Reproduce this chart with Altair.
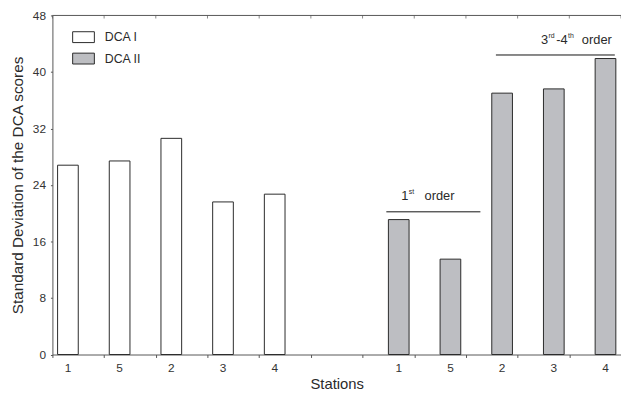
import altair as alt
import pandas as pd

# ---- data ----
stations = ["1", "5", "2", "3", "4"]
dca1_values = [26.8, 27.4, 30.6, 21.6, 22.7]
dca2_values = [19.1, 13.5, 37.0, 37.6, 41.9]
series_names = ["DCA I", "DCA II"]
dca1_slots = [0, 1, 2, 3, 4]
dca2_slots = [6, 7, 8, 9, 10]
y_ticks = [0, 8, 16, 24, 32, 40, 48]
x_ticks = list(range(12))

# annotation brackets (in axis units)
bracket_start = [6.46, 8.58]
bracket_end = [8.28, 10.88]
bracket_level = [20.2, 42.4]

# annotation text pieces
ann_x = [6.75, 6.75, 6.75, 9.45, 9.45, 9.45, 9.45, 9.45]
ann_y = [21.9, 21.9, 21.9, 44.0, 44.0, 44.0, 44.0, 44.0]
ann_text = ["1", "st", "order", "3", "rd", "-4", "th", "order"]
ann_dx = [0, 7.6, 23.5, 0, 7.6, 15.5, 27.5, 41.5]
ann_sup = [0, 1, 0, 0, 1, 0, 1, 0]

FONT = "Liberation Sans"
DARK = "#2a2a2a"
AXC = "#555555"

rows = []
for s, v, k in zip(stations, dca1_values, dca1_slots):
    rows.append({"station": s, "value": v, "series": series_names[0], "slot": k, "off": 0.1})
for s, v, k in zip(stations, dca2_values, dca2_slots):
    rows.append({"station": s, "value": v, "series": series_names[1], "slot": k, "off": 0.5})
df = pd.DataFrame(rows)
df["x0"] = df["slot"] + df["off"]
df["x1"] = df["x0"] + 0.4
df["xc"] = df["x0"] + 0.2
df["base"] = 0.0

xs = alt.Scale(domain=[0, 11], nice=False, zero=False)
ys = alt.Scale(domain=[0, 48], nice=False)

bars = alt.Chart(df).mark_bar(stroke=DARK, strokeWidth=1).encode(
    x=alt.X("x0:Q", scale=xs, axis=alt.Axis(
        values=x_ticks, labels=False, tickSize=3,
        grid=False, title="Stations", titleFontSize=15, titleFont=FONT,
        titleFontWeight="normal", titleColor=DARK, titlePadding=19,
        domainColor=AXC, tickColor=AXC)),
    x2="x1:Q",
    y=alt.Y("value:Q", scale=ys, axis=alt.Axis(
        values=y_ticks, tickSize=2, grid=False, labelFontSize=12, labelFlush=False,
        labelFont=FONT, labelColor="#333333", labelPadding=5,
        title="Standard Deviation of the DCA scores",
        titleFontSize=15.5, titleFont=FONT, titleFontWeight="normal", titleColor=DARK,
        titlePadding=7, domainColor=AXC, tickColor=AXC)),
    y2="base:Q",
    fill=alt.Fill("series:N", scale=alt.Scale(domain=series_names, range=["#ffffff", "#bdbec2"]),
                  legend=alt.Legend(
                      orient="none", legendX=20, legendY=10.5, title=None,
                      symbolType="M-1,-0.5H1V0.5H-1Z", symbolSize=484,
                      symbolStrokeColor=DARK, symbolStrokeWidth=1,
                      labelFont=FONT, labelFontSize=12.5, labelColor=DARK,
                      labelOffset=10, rowPadding=2.7)),
)

labels = alt.Chart(df).mark_text(dy=14, fontSize=12, font=FONT, color="#333333").encode(
    x=alt.X("xc:Q", scale=xs),
    y=alt.Y("base:Q", scale=ys),
    text="station:N",
)

# top frame line with small inward ticks
top_df = pd.DataFrame({"a": [0], "b": [11], "y": [48]})
top_line = alt.Chart(top_df).mark_rule(color=AXC, strokeWidth=1).encode(
    x=alt.X("a:Q", scale=xs), x2="b:Q", y=alt.Y("y:Q", scale=ys))
tick_df = pd.DataFrame({"t": x_ticks, "y": [48] * len(x_ticks)})
top_ticks = alt.Chart(tick_df).mark_tick(color=AXC, thickness=1, size=3, orient="vertical",
                                         yOffset=1.5).encode(
    x=alt.X("t:Q", scale=xs), y=alt.Y("y:Q", scale=ys))

br = pd.DataFrame({"a": bracket_start, "b": bracket_end, "y": bracket_level})
rules = alt.Chart(br).mark_rule(color="#111", strokeWidth=1).encode(
    x=alt.X("a:Q", scale=xs),
    x2="b:Q",
    y=alt.Y("y:Q", scale=ys),
)

ann = pd.DataFrame({"x": ann_x, "y": ann_y, "t": ann_text, "dx": ann_dx, "sup": ann_sup})
main_txt = alt.Chart(ann).transform_filter("datum.sup == 0").mark_text(
    align="left", baseline="alphabetic", fontSize=13, font=FONT, color=DARK,
    dx=alt.expr("datum.dx")).encode(
    x=alt.X("x:Q", scale=xs),
    y=alt.Y("y:Q", scale=ys),
    text="t:N",
)
sup_txt = alt.Chart(ann).transform_filter("datum.sup == 1").mark_text(
    align="left", baseline="alphabetic", fontSize=7, font=FONT, color=DARK, dy=-5.5,
    dx=alt.expr("datum.dx")).encode(
    x=alt.X("x:Q", scale=xs),
    y=alt.Y("y:Q", scale=ys),
    text="t:N",
)

chart = alt.layer(bars, labels, top_line, top_ticks, rules, main_txt, sup_txt).properties(
    width=576, height=343.5,
    autosize=alt.AutoSizeParams(type="none"),
    padding={"left": 45, "top": 5, "right": 0, "bottom": 40},
).configure_view(stroke=None)

chart.save("out.html", embed_options={"renderer": "svg", "actions": False})
